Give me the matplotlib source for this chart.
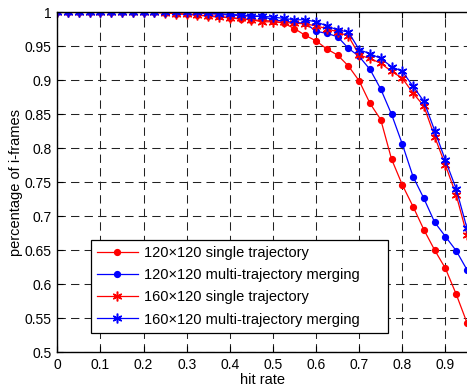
import numpy as np
import matplotlib
matplotlib.use("Agg")
import matplotlib.pyplot as plt
from matplotlib.ticker import FuncFormatter

plt.rcParams['font.family'] = ['Liberation Sans', 'DejaVu Sans']

hit_rate = [round(0.025 * k, 3) for k in range(39)]

single_120 = [1.0, 1.0, 1.0, 1.0, 1.0, 1.0, 1.0, 1.0, 1.0, 1.0,
              0.999, 0.998, 0.997, 0.996, 0.995, 0.994, 0.992, 0.990, 0.989, 0.988,
              0.987, 0.984, 0.976, 0.966, 0.958, 0.946, 0.937, 0.921, 0.899, 0.866,
              0.842, 0.784, 0.746, 0.714, 0.680, 0.650, 0.623, 0.585, 0.543]
multi_120 = [1.0, 1.0, 1.0, 1.0, 1.0, 1.0, 1.0, 1.0, 1.0, 1.0,
             1.0, 1.0, 1.0, 0.999, 0.998, 0.997, 0.996, 0.995, 0.994, 0.994,
             0.989, 0.987, 0.985, 0.984, 0.972, 0.969, 0.964, 0.947, 0.935, 0.916,
             0.887, 0.850, 0.806, 0.758, 0.726, 0.691, 0.670, 0.649, 0.621]
single_160 = [1.0, 1.0, 1.0, 1.0, 1.0, 1.0, 1.0, 1.0, 1.0, 1.0,
              0.999, 0.998, 0.997, 0.996, 0.994, 0.993, 0.992, 0.991, 0.989, 0.986,
              0.986, 0.985, 0.984, 0.983, 0.980, 0.976, 0.971, 0.965, 0.937, 0.932,
              0.925, 0.913, 0.903, 0.881, 0.862, 0.817, 0.775, 0.731, 0.672]
multi_160 = [1.0, 1.0, 1.0, 1.0, 1.0, 1.0, 1.0, 1.0, 1.0, 1.0,
             1.0, 1.0, 1.0, 1.0, 0.999, 0.998, 0.997, 0.996, 0.995, 0.994,
             0.993, 0.991, 0.989, 0.989, 0.986, 0.980, 0.974, 0.971, 0.945, 0.939,
             0.932, 0.920, 0.913, 0.891, 0.869, 0.826, 0.782, 0.740, 0.682]

labels = ['120\u00d7120 single trajectory',
          '120\u00d7120 multi-trajectory merging',
          '160\u00d7120 single trajectory',
          '160\u00d7120 multi-trajectory merging']

xticks = [0, 0.1, 0.2, 0.3, 0.4, 0.5, 0.6, 0.7, 0.8, 0.9]
yticks = [0.5, 0.55, 0.6, 0.65, 0.7, 0.75, 0.8, 0.85, 0.9, 0.95, 1.0]

fig = plt.figure(figsize=(4.67, 3.89), dpi=100)
ax = fig.add_axes([0.1227, 0.0951, 0.8773, 0.8733])

asterisk = (6, 2, 0)
ax.plot(hit_rate, single_120, color='#ff0000', lw=0.9, marker='o', ms=4.2,
        mec='#ff0000', mfc='#ff0000', label=labels[0])
ax.plot(hit_rate, multi_120, color='#0000ff', lw=0.9, marker='o', ms=4.2,
        mec='#0000ff', mfc='#0000ff', label=labels[1])
ax.plot(hit_rate, single_160, color='#ff0000', lw=0.9, marker=asterisk, ms=7,
        mew=1.1, mec='#ff0000', label=labels[2])
ax.plot(hit_rate, multi_160, color='#0000ff', lw=0.9, marker=asterisk, ms=7,
        mew=1.1, mec='#0000ff', label=labels[3])

ax.set_xlim(0, 0.95)
ax.set_ylim(0.5, 1.0)
ax.set_xticks(xticks)
ax.set_yticks(yticks)
fmt = FuncFormatter(lambda v, p: ('%g' % round(v, 3)))
ax.xaxis.set_major_formatter(fmt)
ax.yaxis.set_major_formatter(fmt)
ax.tick_params(direction='in', length=4, width=0.8, labelsize=10, pad=4,
               top=True, right=False, colors='k')
ax.set_axisbelow(True)
ax.grid(True, color='#222222', lw=0.75, linestyle=(0, (8, 5)))

for side in ['left', 'bottom', 'top']:
    ax.spines[side].set_linewidth(1.0)
    ax.spines[side].set_color('k')
ax.spines['right'].set_visible(False)

ax.set_xlabel('hit rate', fontsize=10.5)
ax.xaxis.set_label_coords(0.5, -0.062)
ax.set_ylabel('percentage of i-frames', fontsize=10.5)
ax.yaxis.set_label_coords(-0.084, 0.5)

leg = ax.legend(loc='lower left', bbox_to_anchor=(0.082, 0.057, 0.725, 0.28),
                mode='expand', fontsize=10.5, frameon=True, fancybox=False,
                edgecolor='k', framealpha=1, borderaxespad=0, borderpad=0.42,
                handlelength=2.8, handletextpad=0.45, labelspacing=0.55)
leg.get_frame().set_linewidth(0.9)

fig.savefig('out.png', dpi=100)
